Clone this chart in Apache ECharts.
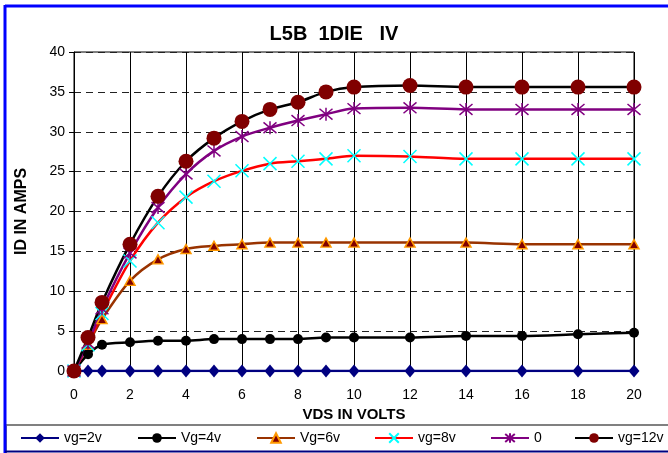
<!DOCTYPE html>
<html><head><meta charset="utf-8">
<script src="https://cdn.jsdelivr.net/npm/echarts@6/dist/echarts.min.js"></script>
<style>html,body{margin:0;padding:0;background:#fff}#c{width:668px;height:453px}</style>
</head><body><div id="c"></div>
<script>
var xVals = [0,0.5,1,2,3,4,5,6,7,8,9,10,12,14,16,18,20];
var vg2  = [0,0,0,0,0,0,0,0,0,0,0,0,0,0,0,0,0];
var vg4  = [0,2.1,3.3,3.6,3.8,3.8,4.0,4.0,4.0,4.0,4.2,4.2,4.2,4.4,4.4,4.6,4.8];
var vg6  = [0,3.3,6.5,11.3,14.0,15.3,15.7,15.9,16.1,16.1,16.1,16.1,16.1,16.1,15.9,15.9,15.9];
var vg8  = [0,3.3,7.2,13.8,18.6,21.8,23.8,25.1,26.0,26.3,26.6,27.0,26.9,26.6,26.6,26.6,26.6];
var vg0  = [0,3.5,7.8,14.8,20.5,24.7,27.6,29.4,30.5,31.4,32.2,32.9,33.0,32.8,32.8,32.8,32.8];
var vg12 = [0,4.2,8.6,15.9,21.9,26.3,29.2,31.3,32.8,33.7,35.0,35.6,35.8,35.6,35.6,35.6,35.6];
var names = ['vg=2v','Vg=4v','Vg=6v','vg=8v','0','vg=12v'];
var yTicks = [0,5,10,15,20,25,30,35,40];
var xTicks = [0,2,4,6,8,10,12,14,16,18,20];

function pairs(ys){ return xVals.map(function(x,i){return [x, ys[i]];}); }
var FONT = '"Liberation Sans", Arial, sans-serif';
var X_PATH = 'path://M0,0L10,10M0,10L10,0';
var STAR_PATH = 'path://M0,0L10,10M0,10L10,0M5,-1L5,11';
var legendLefts = [15, 132, 251, 369, 485, 569];

var chart = echarts.init(document.getElementById('c'), null, {renderer:'canvas'});
chart.setOption({
  animation: false,
  backgroundColor: '#fff',
  textStyle: {fontFamily: FONT},
  title: {text: 'L5B  1DIE   IV', left: 'center', top: 19,
    textStyle: {fontFamily: FONT, fontSize: 20, fontWeight: 'bold', color: '#000'}},
  graphic: [
    {type:'rect', shape:{x:6, y:425, width:700, height:40}, style:{fill:'none', stroke:'#808080', lineWidth:2}, z:0},
    {type:'line', shape:{x1:5, y1:6, x2:700, y2:6}, style:{stroke:'#0000ff', lineWidth:3}, z:10},
    {type:'line', shape:{x1:5, y1:5, x2:5, y2:453}, style:{stroke:'#0000ff', lineWidth:3}, z:10},
    {type:'line', shape:{x1:5, y1:451.5, x2:700, y2:451.5}, style:{stroke:'#000080', lineWidth:2}, z:10}
  ],
  legend: names.map(function(n, i){
    return {data: [n], left: legendLefts[i], top: 426, itemWidth: 38, itemHeight: 12, itemGap: 0,
      textStyle: {fontFamily: FONT, fontSize: 14, color: '#000'}};
  }),
  grid: {left: 74, right: 34, top: 52, bottom: 82, show: true, borderColor: '#000', borderWidth: 1},
  xAxis: {
    type: 'value', min: 0, max: 20, interval: 2,
    name: 'VDS IN VOLTS', nameLocation: 'middle', nameGap: 32,
    nameTextStyle: {fontFamily: FONT, fontSize: 15, fontWeight: 'bold', color: '#000'},
    axisLine: {show: true, lineStyle: {color: '#000', width: 1}},
    axisTick: {show: false},
    axisLabel: {margin: 17, fontSize: 14, color: '#000', fontFamily: FONT,
      formatter: function(v){ return xTicks.indexOf(v) >= 0 ? String(v) : ''; }},
    splitLine: {show: true, lineStyle: {color: '#000', width: 1}}
  },
  yAxis: {
    type: 'value', min: 0, max: 40, interval: 5,
    name: 'ID IN AMPS', nameLocation: 'middle', nameGap: 44, nameRotate: 90,
    nameTextStyle: {fontFamily: FONT, fontSize: 16, fontWeight: 'bold', color: '#000'},
    axisLine: {show: true, lineStyle: {color: '#000', width: 1}},
    axisTick: {show: true, length: 5, lineStyle: {color:'#000'}},
    axisLabel: {margin: 9, fontSize: 14, color: '#000', fontFamily: FONT,
      formatter: function(v){ return yTicks.indexOf(v) >= 0 ? String(v) : ''; }},
    splitLine: {show: true, lineStyle: {color: '#222', width: 1, type: [7,5]}}
  },
  series: [
    {name: names[0], type:'line', data: pairs(vg2), smooth: 0.3, symbol:'diamond', symbolSize:[11,13],
      lineStyle:{color:'#000080', width:2.5}, itemStyle:{color:'#000080'}},
    {name: names[1], type:'line', data: pairs(vg4), smooth: 0.3, symbol:'circle', symbolSize:10,
      lineStyle:{color:'#000', width:2.5}, itemStyle:{color:'#000'}},
    {name: names[2], type:'line', data: pairs(vg6), smooth: 0.3, symbol:'triangle', symbolSize:[10,9],
      lineStyle:{color:'#993300', width:2.5}, itemStyle:{color:'#800000', borderColor:'#ff9900', borderWidth:1.5}},
    {name: names[3], type:'line', data: pairs(vg8), smooth: 0.3, symbol: X_PATH, symbolSize:13,
      lineStyle:{color:'#ff0000', width:2.5}, itemStyle:{color:'#00ffff', borderColor:'#00ffff', borderWidth:1.5}},
    {name: names[4], type:'line', data: pairs(vg0), smooth: 0.3, symbol: STAR_PATH, symbolSize:13,
      lineStyle:{color:'#800080', width:2.5}, itemStyle:{color:'#800080', borderColor:'#800080', borderWidth:1.5}},
    {name: names[5], type:'line', data: pairs(vg12), smooth: 0.3, symbol:'circle', symbolSize:15,
      lineStyle:{color:'#000', width:2.5}, itemStyle:{color:'#800000'}}
  ]
});
</script></body></html>
